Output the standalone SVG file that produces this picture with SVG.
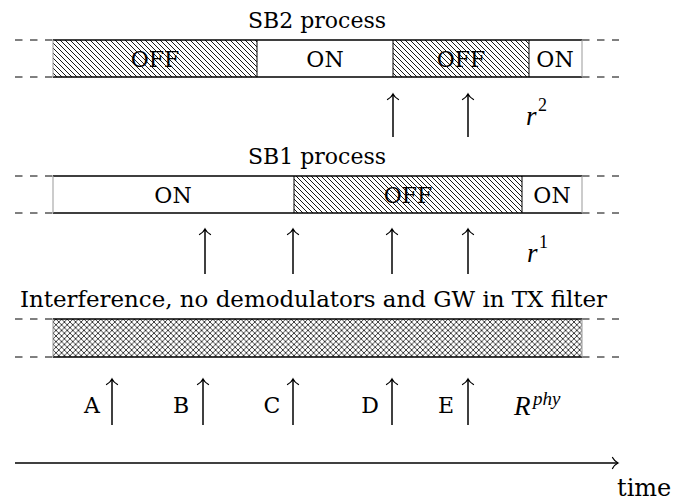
<svg xmlns="http://www.w3.org/2000/svg" width="694" height="502" viewBox="0 0 694 502">
  <defs>
    <!-- diagonal hatching for OFF periods -->
    <pattern id="nwlines" patternUnits="userSpaceOnUse" width="5" height="5">
      <path d="M-1,-1 L6,6 M-1,4 L1,6 M4,-1 L6,1" stroke="#000" stroke-width="0.9" shape-rendering="crispEdges"/>
    </pattern>
    <!-- crosshatch for the interference band -->
    <pattern id="xhatch" patternUnits="userSpaceOnUse" width="5.6" height="5.6">
      <path d="M0,0 L5.6,5.6 M5.6,0 L0,5.6" stroke="#000" stroke-width="0.8" shape-rendering="crispEdges"/>
    </pattern>
    <marker id="head" markerUnits="userSpaceOnUse" viewBox="-7 -7 9 14" markerWidth="9" markerHeight="14" refX="0" refY="0" orient="auto" overflow="visible">
      <path d="M-5.5,-5.5 C-3.8,-2.4 -1.5,-0.7 0,0 C-1.5,0.7 -3.8,2.4 -5.5,5.5" fill="none" stroke="#000" stroke-width="1.3" stroke-linecap="round"/>
    </marker>
  </defs>
  <style>
    text { font-family: "DejaVu Serif", "Liberation Serif", serif; font-size: 22px; fill: #000; }
    .c { text-anchor: middle; }
    .math { font-family: "Liberation Serif", "DejaVu Serif", serif; font-style: italic; font-size: 27px; }
    .sup { font-family: "Liberation Serif", "DejaVu Serif", serif; font-size: 18px; }
    .supi { font-family: "Liberation Serif", "DejaVu Serif", serif; font-style: italic; font-size: 19px; }
    .dash { stroke: #000; stroke-width: 1; stroke-dasharray: 7.5 7.5; fill: none; }
    .edge { stroke: #000; stroke-width: 1.3; fill: none; }
    .side { stroke: #999; stroke-width: 1; fill: none; }
    .div { stroke: #000; stroke-width: 1; fill: none; }
    .arr { stroke: #000; stroke-width: 1.5; fill: none; marker-end: url(#head); }
  </style>

  <!-- SB2 process -->
  <g id="sb2">
    <text class="c" x="317" y="28">SB2 process</text>
    <rect x="53" y="40" width="204" height="37" fill="url(#nwlines)"/>
    <rect x="393" y="40" width="136" height="37" fill="url(#nwlines)"/>
    <path class="dash" d="M15,40 H53 M15,77 H53 M582,40 H619 M582,77 H619"/>
    <path class="edge" d="M53,40 H582 M53,77 H582"/>
    <path class="side" d="M53,40 V77 M582,40 V77"/>
    <path class="div" d="M257,40 V77 M393,40 V77 M529,40 V77"/>
    <text class="c" x="155" y="67">OFF</text>
    <text class="c" x="325" y="67">ON</text>
    <text class="c" x="461" y="67">OFF</text>
    <text class="c" x="555" y="67">ON</text>
  </g>

  <!-- SB1 process -->
  <g id="sb1">
    <text class="c" x="317" y="164">SB1 process</text>
    <rect x="294" y="176" width="228" height="37" fill="url(#nwlines)"/>
    <path class="dash" d="M15,176 H53 M15,213 H53 M582,176 H619 M582,213 H619"/>
    <path class="edge" d="M53,176 H582 M53,213 H582"/>
    <path class="side" d="M53,176 V213 M582,176 V213"/>
    <path class="div" d="M294,176 V213 M522,176 V213"/>
    <text class="c" x="173" y="203">ON</text>
    <text class="c" x="408" y="203">OFF</text>
    <text class="c" x="552" y="203">ON</text>
  </g>

  <!-- physical layer band -->
  <g id="phy">
    <text x="20" y="307" textLength="587" lengthAdjust="spacingAndGlyphs">Interference, no demodulators and GW in TX filter</text>
    <rect x="53" y="319" width="529" height="38" fill="url(#xhatch)"/>
    <path class="dash" d="M15,319 H53 M15,357 H53 M582,319 H619 M582,357 H619"/>
    <path class="edge" d="M53,319 H582 M53,357 H582"/>
    <path class="side" d="M53,319 V357 M582,319 V357"/>
  </g>

  <!-- event labels -->
  <g id="labels">
    <text x="526" y="125" class="math">r</text>
    <text x="538" y="111" class="sup">2</text>
    <text x="527" y="262" class="math">r</text>
    <text x="539" y="248" class="sup">1</text>
    <text x="514" y="415" class="math">R</text>
    <text x="533" y="405" class="supi">phy</text>
    <text class="c" x="92" y="413">A</text>
    <text class="c" x="181" y="413">B</text>
    <text class="c" x="272" y="413">C</text>
    <text class="c" x="370" y="413">D</text>
    <text class="c" x="446" y="413">E</text>
    <text x="617" y="496" style="font-size:24px">time</text>
  </g>

  <!-- connectors -->
  <g id="connectors">
    <path class="arr" d="M393,137 V94"/>
    <path class="arr" d="M468,137 V94"/>
    <path class="arr" d="M205,274 V229"/>
    <path class="arr" d="M293,274 V229"/>
    <path class="arr" d="M392,274 V229"/>
    <path class="arr" d="M468,274 V229"/>
    <path class="arr" d="M112,425 V379"/>
    <path class="arr" d="M203,425 V379"/>
    <path class="arr" d="M293,425 V379"/>
    <path class="arr" d="M392,425 V379"/>
    <path class="arr" d="M468,425 V379"/>
    <path class="arr" d="M15,463 H618"/>
  </g>
</svg>
